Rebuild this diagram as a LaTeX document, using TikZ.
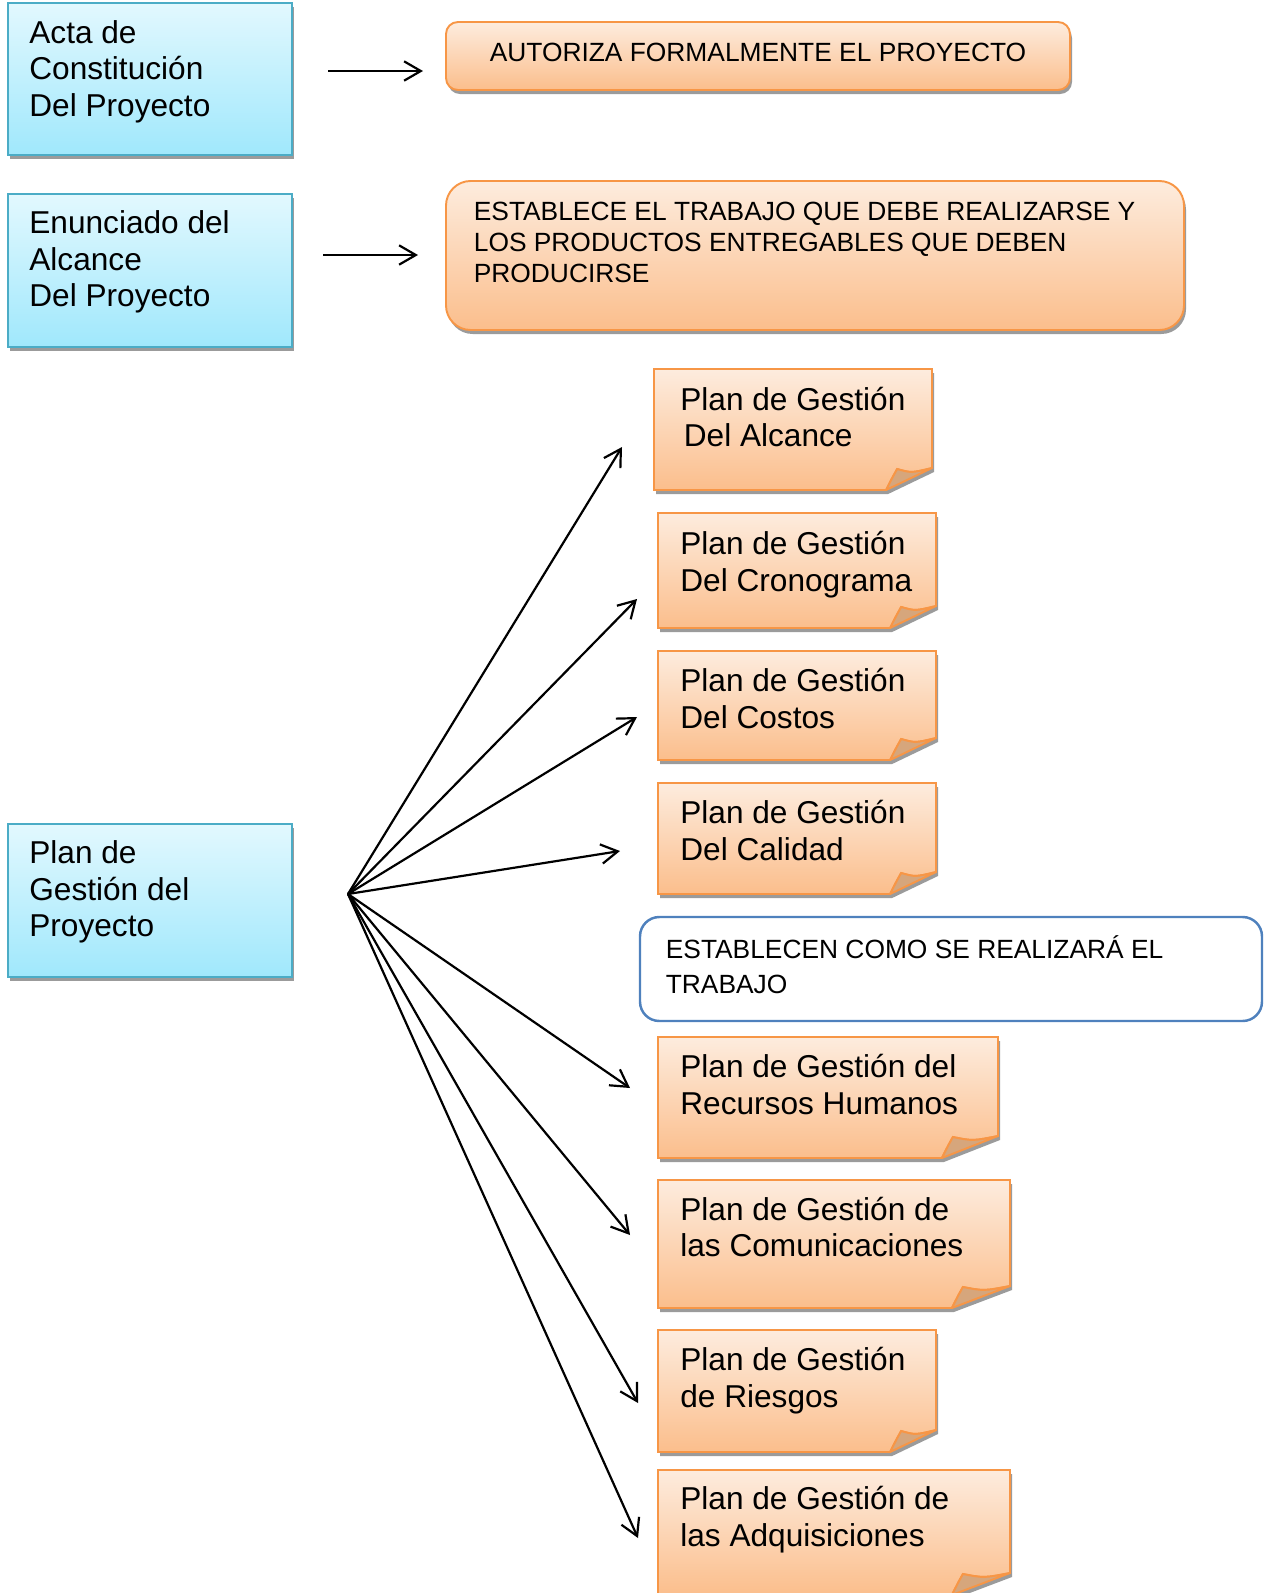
\documentclass[tikz,border=0pt]{standalone}
\usepackage{fontspec}
\setmainfont{Liberation Sans}
\usetikzlibrary{arrows.meta}
\definecolor{bluetop}{RGB}{226,248,254}
\definecolor{bluebot}{RGB}{160,232,252}
\definecolor{blueline}{RGB}{75,172,198}
\definecolor{orgtop}{RGB}{253,236,222}
\definecolor{orgbot}{RGB}{251,190,140}
\definecolor{orgline}{RGB}{247,150,70}
\definecolor{flapcol}{RGB}{214,166,124}
\definecolor{shadowgray}{RGB}{155,155,155}
\definecolor{frameblue}{RGB}{79,129,189}
% #1 left, #2 top, #3 right, #4 bottom
\newcommand\notebox[4]{%
  \pgfmathsetmacro\cw{0.165*(#3-#1)}%
  \fill[shadowgray] (#1+2,#2+4) -- (#3+2,#2+4) -- (#3+2,#4-18) -- (#3-\cw+2,#4+4) -- (#1+2,#4+4) -- cycle;
  \path[orgbox] (#1,#2) -- (#3,#2) -- (#3,#4-22)
     .. controls (#3-0.45*\cw,#4-17) .. (#3-\cw+11,#4-21)
     .. controls (#3-\cw+6,#4-12) .. (#3-\cw,#4) -- (#1,#4) -- cycle;
  \path[draw=orgline, line width=1.1pt, fill=flapcol, line join=round] (#3,#4-22)
     .. controls (#3-0.45*\cw,#4-17) .. (#3-\cw+11,#4-21)
     .. controls (#3-\cw+6,#4-12) .. (#3-\cw,#4) -- cycle;
}
\begin{document}
\begin{tikzpicture}[x=0.02cm,y=-0.02cm,
  bigtxt/.style={inner sep=0pt, anchor=base west, align=left, font=\fontsize{18pt}{20.8pt}\selectfont},
  captxt/.style={inner sep=0pt, anchor=base west, align=left, font=\fontsize{15pt}{17.6pt}\selectfont},
  bluebox/.style={draw=blueline, line width=1.1pt, top color=bluetop, bottom color=bluebot},
  orgbox/.style={draw=orgline, line width=1.1pt, top color=orgtop, bottom color=orgbot},
  shadowbox/.style={fill=shadowgray},
  arr/.style={line width=1.25pt, -{Straight Barb[length=9.5pt,width=11pt]}}]
\useasboundingbox (0,0) rectangle (1270,1593);

% blue boxes
\fill[shadowbox] (10,7) rectangle (294,159);
\path[bluebox] (8,3) rectangle (292,155);
\fill[shadowbox] (10,198) rectangle (294,351);
\path[bluebox] (8,194) rectangle (292,347);
\fill[shadowbox] (10,828) rectangle (294,981);
\path[bluebox] (8,824) rectangle (292,977);

% (base anchor = baseline of the last line)
\node[bigtxt] (acta) at (29,116.4) {Acta de\\Constitución\\Del Proyecto};
\node[bigtxt] (enun) at (29,306.9) {Enunciado del\\Alcance\\Del Proyecto};
\node[bigtxt] (plan) at (29,936.9) {Plan de\\Gestión del\\Proyecto};

% orange rounded boxes
\fill[shadowbox, rounded corners=6.8pt] (448,26) rectangle (1072,94);
\path[orgbox, rounded corners=6.8pt] (446,22) rectangle (1070,90);
\node[captxt, anchor=base] (autoriza) at (758,61.3) {AUTORIZA FORMALMENTE EL PROYECTO};

\fill[shadowbox, rounded corners=14pt] (448,185) rectangle (1186,334);
\path[orgbox, rounded corners=14pt] (446,181) rectangle (1184,330);
\node[captxt] (establece) at (473.5,282.8) {ESTABLECE EL TRABAJO QUE DEBE REALIZARSE Y\\LOS PRODUCTOS ENTREGABLES QUE DEBEN\\PRODUCIRSE};

% blue framed box
\path[draw=frameblue, fill=white, line width=1.4pt, rounded corners=11pt] (640,917) rectangle (1262,1021);
\node[captxt, font=\fontsize{15pt}{19.6pt}\selectfont] (establecen) at (665.5,993) {ESTABLECEN COMO SE REALIZARÁ EL\\TRABAJO};

% notes
\notebox{654}{369}{932}{490}
\notebox{658}{513}{936}{628}
\notebox{658}{651}{936}{760}
\notebox{658}{783}{936}{894}
\notebox{658}{1037}{998}{1158}
\notebox{658}{1180}{1010}{1308}
\notebox{658}{1330}{936}{1452}
\notebox{658}{1470}{1010}{1595}

\node[bigtxt] (alcance) at (680,446.7) {Plan de Gestión\\\hspace*{2pt}Del Alcance};
\node[bigtxt] (crono) at (680,591.3) {Plan de Gestión\\Del Cronograma};
\node[bigtxt] (costos) at (680,728.4) {Plan de Gestión\\Del Costos};
\node[bigtxt] (calidad) at (680,860.5) {Plan de Gestión\\Del Calidad};
\node[bigtxt] (rrhh) at (680,1114.5) {Plan de Gestión del\\Recursos Humanos};
\node[bigtxt] (comun) at (680,1256.7) {Plan de Gestión de\\las Comunicaciones};
\node[bigtxt] (riesgos) at (680,1407.1) {Plan de Gestión\\de Riesgos};
\node[bigtxt] (adq) at (680,1546.3) {Plan de Gestión de\\las Adquisiciones};

% arrows
\coordinate (a1s) at (328,71);  \coordinate (a1e) at (423,71);
\coordinate (a2s) at (323,255); \coordinate (a2e) at (418,255);
\draw[arr] (a1s) -- (a1e);
\draw[arr] (a2s) -- (a2e);

\coordinate (hub) at (348,894);
\coordinate (e1) at (622,447);
\coordinate (e2) at (637,599);
\coordinate (e3) at (637,717);
\coordinate (e4) at (620,851);
\coordinate (e5) at (630,1088);
\coordinate (e6) at (630,1235);
\coordinate (e7) at (638,1403);
\coordinate (e8) at (638,1538);
\foreach \e in {e1,e2,e3,e4,e5,e6,e7,e8} \draw[arr] (hub) -- (\e);
\end{tikzpicture}
\end{document}
